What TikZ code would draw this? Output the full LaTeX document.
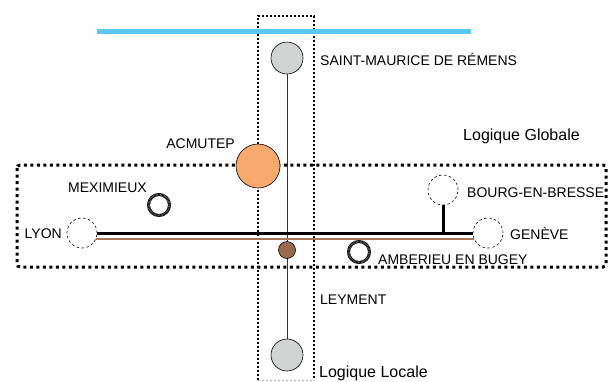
\documentclass[tikz,border=0pt]{standalone}
\usepackage{fontspec}
\setmainfont{Liberation Sans}
\definecolor{skyline}{HTML}{5AC8F0}
\definecolor{acmorange}{HTML}{F8AA6E}
\definecolor{stgray}{HTML}{D2D3D3}
\definecolor{brfill}{HTML}{9A6A4A}
\definecolor{brline}{HTML}{A8765A}
\pgfdeclarelayer{bg}
\pgfsetlayers{bg,main}
\begin{document}
\begin{tikzpicture}[x=1pt,y=-1pt,
  lbl/.style={inner sep=0pt, font=\fontsize{14}{16}\selectfont, anchor=base west},
  lgc/.style={inner sep=0pt, font=\fontsize{16}{18}\selectfont, anchor=base west},
  station/.style={circle, draw=black, line width=0.6pt, fill=stgray, minimum size=32pt, inner sep=0pt},
  dcirc/.style={circle, draw=black, dash pattern=on 2.5pt off 2.5pt, line width=0.6pt, fill=white, minimum size=30pt, inner sep=0pt},
  ring/.style={circle, draw=black, line width=3pt, minimum size=21pt, inner sep=0pt},
  ringhatch/.style={draw=black!45, line width=2pt, dash pattern=on 0.4pt off 1pt},
  bigdot/.style={draw=black, line width=3pt, dash pattern=on 3pt off 3.5pt, rounded corners=3pt},
  locdot/.style={draw=black, line width=2.6pt, dash pattern=on 2pt off 2pt},
  rail/.style={draw=black, line width=3pt},
  brrail/.style={draw=brline, line width=2pt},
  track/.style={draw=black!80, line width=0.8pt}]
\useasboundingbox (0,0) rectangle (612,381);

% stations
\node[station] (stm) at (287,58) {};
\node[station] (bot) at (287,355) {};
\node[circle, draw=black, line width=0.6pt, fill=acmorange, minimum size=44pt, inner sep=0pt] (acm) at (258,166) {};
\node[circle, draw=black, line width=0.6pt, fill=brfill, minimum size=17pt, inner sep=0pt] (ley) at (287,250) {};
\node[dcirc] (lyon) at (82,233) {};
\node[dcirc] (bourg) at (443,190) {};
\node[dcirc] (geneve) at (488,233) {};
\node[ring] (mex) at (159,205) {};
\draw[ringhatch] (mex.center) circle (10.5);
\node[ring] (amb) at (359,252) {};
\draw[ringhatch] (amb.center) circle (10.5);

% labels
\node[lbl] (tstm) at (320,65) {SAINT-MAURICE DE RÉMENS};
\node[lbl, anchor=base east] (tacm) at (235,148) {ACMUTEP};
\node[lgc] (tglob) at (463,140.5) {Logique Globale};
\node[lbl] (tmex) at (68,192) {MEXIMIEUX};
\node[lbl, anchor=base east] (tlyon) at (62,238) {LYON};
\node[lbl] (tbourg) at (467,197) {BOURG-EN-BRESSE};
\node[lbl] (tgen) at (510,239) {GENÈVE};
\node[lbl] (tamb) at (378,264) {AMBERIEU EN BUGEY};
\node[lbl] (tley) at (320,304) {LEYMENT};
\node[lgc] (tloc) at (319,377.5) {Logique Locale};

\coordinate (bl1) at (97,31);
\coordinate (bl2) at (471,31);

\begin{pgfonlayer}{bg}
  % zones
  \draw[bigdot] (17,165) rectangle (606,267);
  \draw[locdot] (258,380) -- (258,16) -- (314,16) -- (314,380);
  \draw[locdot, draw=black!30, line width=1pt] (258,380) -- (314,380);
  % blue line
  \draw[draw=skyline, line width=5pt] (bl1) -- (bl2);
  % local track
  \draw[track] (stm.south) -- (bot.north);
  % global tracks
  \draw[rail] (lyon.east) -- (geneve.west);
  \draw[brrail] (lyon.-23) -- (geneve.203);
  \draw[rail] (bourg.south) -- (bourg.south |- lyon.east);
\end{pgfonlayer}
\end{tikzpicture}
\end{document}
